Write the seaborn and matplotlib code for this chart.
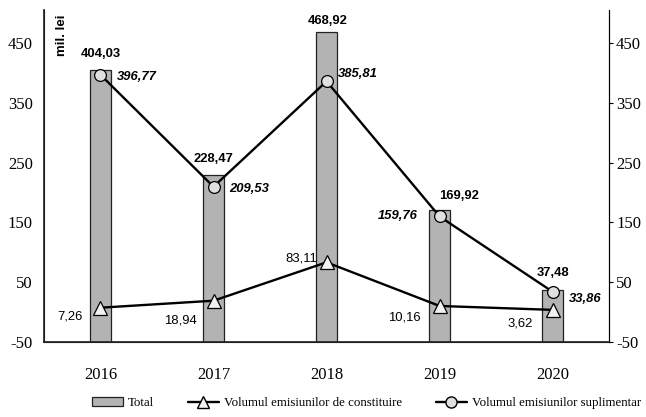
import matplotlib
matplotlib.use("Agg")
import matplotlib.pyplot as plt
import seaborn as sns
import pandas as pd
from matplotlib.patches import Patch
from matplotlib.lines import Line2D

years = ["2016", "2017", "2018", "2019", "2020"]
total = [404.03, 228.47, 468.92, 169.92, 37.48]
constituire = [7.26, 18.94, 83.11, 10.16, 3.62]
suplimentar = [396.77, 209.53, 385.81, 159.76, 33.86]
total_labels = ["404,03", "228,47", "468,92", "169,92", "37,48"]
constituire_labels = ["7,26", "18,94", "83,11", "10,16", "3,62"]
suplimentar_labels = ["396,77", "209,53", "385,81", "159,76", "33,86"]
yticks = [-50, 50, 150, 250, 350, 450]

YMIN, YMAX = -50, 505

sns.set_theme(style="white")
plt.rcParams['font.family'] = ['Liberation Serif', 'DejaVu Serif']
for k in ["text.color", "axes.labelcolor", "xtick.color", "ytick.color"]:
    plt.rcParams[k] = "black"

# bars are drawn from the axis minimum, as in the original (Excel style)
df = pd.DataFrame({"year": years, "height": [t - YMIN for t in total]})

fig = plt.figure(figsize=(6.46, 4.17), dpi=100)
ax = fig.add_axes([0.068, 0.180, 0.875, 0.796])

sns.barplot(data=df, x="year", y="height", ax=ax, color="#b3b3b3",
            edgecolor="#222222", linewidth=0.9, width=0.185, saturation=1,
            bottom=YMIN)

xs = list(range(len(years)))
ax.plot(xs, constituire, color="black", lw=1.7, marker="^", ms=10,
        mfc="#f2f2f2", mec="black", mew=0.9, zorder=5)
ax.plot(xs, suplimentar, color="black", lw=1.7, marker="o", ms=8.5,
        mfc="#e0e0e0", mec="black", mew=0.9, zorder=5)

ax.set_ylim(YMIN, YMAX)
ax.set_xlim(-0.5, 4.5)
ax.set_yticks(yticks)
ax.set_yticklabels([str(t) for t in yticks], fontsize=12)
ax.tick_params(axis="y", length=0, pad=8)
ax.tick_params(axis="x", length=0, pad=18, labelsize=12)
ax.set_xlabel("")
ax.set_ylabel("")
ax.spines["top"].set_visible(False)
for s in ["left", "right", "bottom"]:
    ax.spines[s].set_color("black")
    ax.spines[s].set_linewidth(0.8)

ax2 = ax.twinx()
ax2.set_ylim(ax.get_ylim())
ax2.set_yticks(yticks)
ax2.set_yticklabels([str(t) for t in yticks], fontsize=12)
ax2.tick_params(axis="y", length=3, width=0.8, direction="out", pad=2, color="black")
ax2.spines["top"].set_visible(False)
ax2.spines["right"].set_color("black")
ax2.spines["right"].set_linewidth(0.8)
ax2.grid(False)

sans = ['Liberation Sans', 'DejaVu Sans']
FS = 9.4
# total labels (centre offsets in points from bar top)
tot_off = [(0, 12), (0, 12), (1, 7.6), (13.7, 10.4), (0, 12)]
for i, (v, lab) in enumerate(zip(total, total_labels)):
    ax.annotate(lab, (i, v), xytext=tot_off[i], textcoords="offset points",
                ha="center", va="center", fontsize=FS, fontweight="bold",
                family=sans, color="black")
# suplimentar labels
sup_off = [(12, -1.5), (11.5, -1.5), (8, 5), (-16, 0), (11.5, -5)]
sup_ha = ["left", "left", "left", "right", "left"]
for i, (v, lab) in enumerate(zip(suplimentar, suplimentar_labels)):
    ax.annotate(lab, (i, v), xytext=sup_off[i], textcoords="offset points",
                ha=sup_ha[i], va="center", fontsize=FS, fontweight="bold",
                fontstyle="italic", family=sans, color="black")
# constituire labels
con_off = [(-13, -6.5), (-12, -14), (-7, 3), (-14, -8), (-14, -9.5)]
for i, (v, lab) in enumerate(zip(constituire, constituire_labels)):
    ax.annotate(lab, (i, v), xytext=con_off[i], textcoords="offset points",
                ha="right", va="center", fontsize=FS, family=sans, color="black")

ax.text(0.032, 0.985, "mil. lei", transform=ax.transAxes, rotation=90,
        ha="center", va="top", fontsize=9.5, fontweight="bold", family=sans,
        color="black")

handles = [
    Patch(facecolor="#b3b3b3", edgecolor="#222222", linewidth=0.9, label="Total"),
    Line2D([0], [0], color="black", lw=1.7, marker="^", ms=9, mfc="#f2f2f2",
           mec="black", label="Volumul emisiunilor de constituire"),
    Line2D([0], [0], color="black", lw=1.7, marker="o", ms=8, mfc="#e0e0e0",
           mec="black", label="Volumul emisiunilor suplimentar"),
]
fig.legend(handles=handles, loc="center", bbox_to_anchor=(0.567, 0.033), ncol=3,
           frameon=False, fontsize=9.3, handlelength=2.4, columnspacing=2.6,
           handletextpad=0.4)

fig.savefig("out.png", dpi=100)
